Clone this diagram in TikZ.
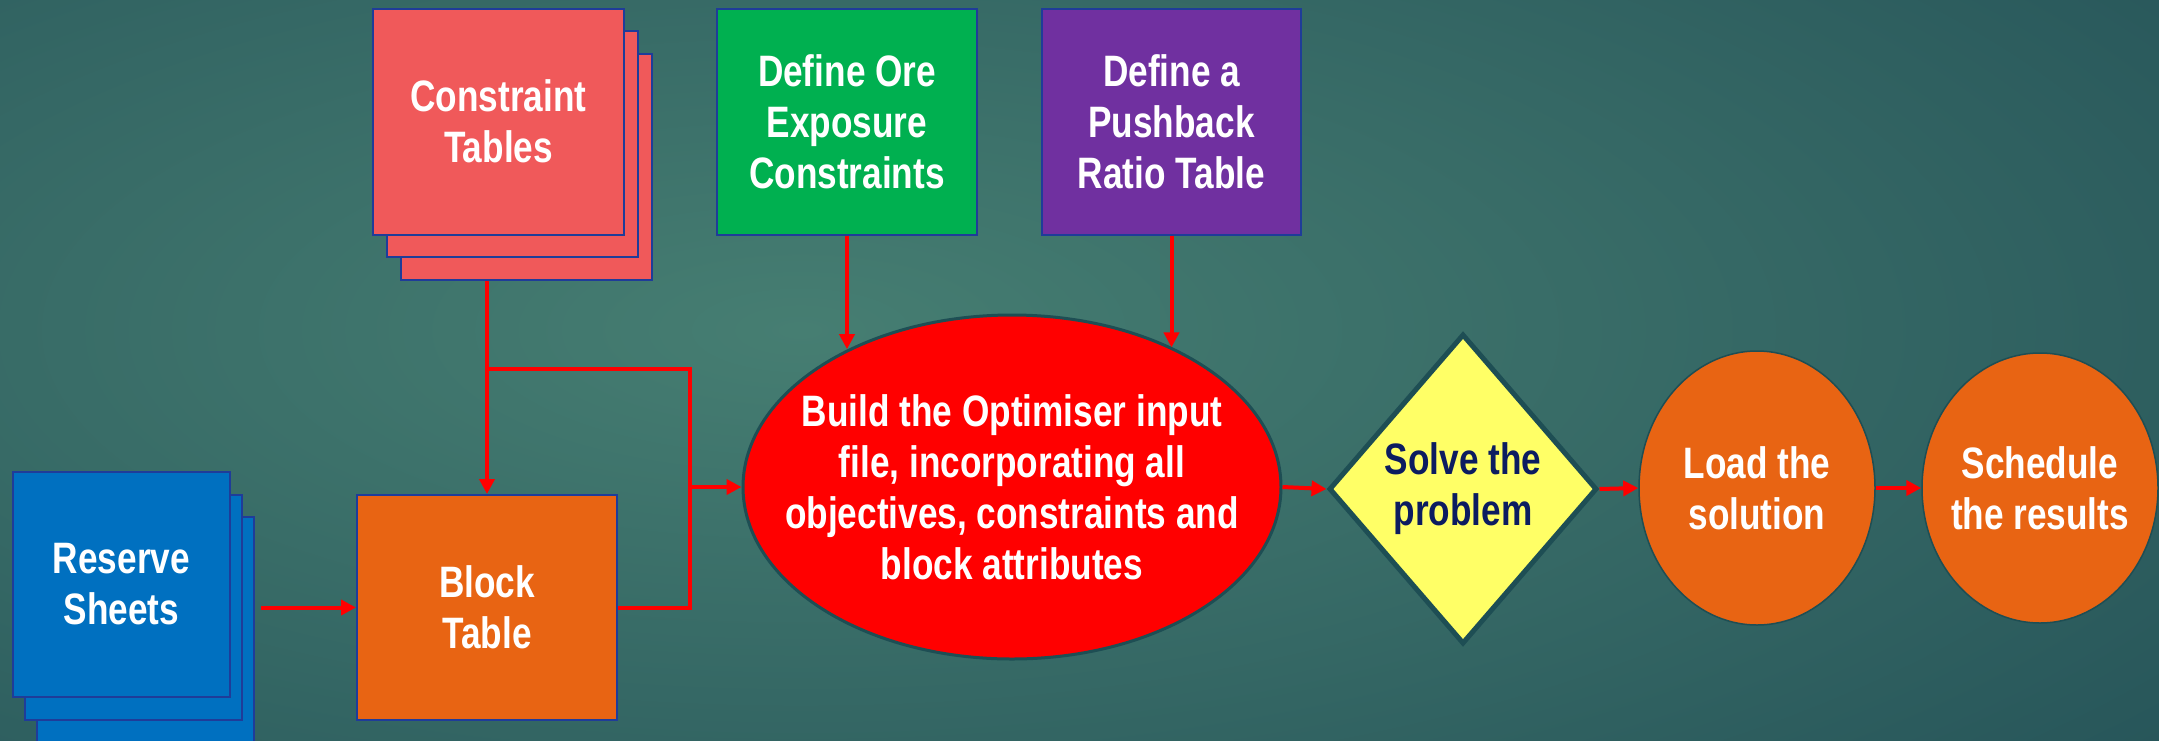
\documentclass[tikz,border=0pt]{standalone}
\usepackage{fontspec}
\setmainfont{Liberation Sans}[FakeStretch=0.8]
\usetikzlibrary{shapes.geometric,arrows.meta}

\definecolor{bgin}{RGB}{70,126,114}
\definecolor{bgout}{RGB}{24,66,78}
\definecolor{edgeblue}{RGB}{31,60,153}
\definecolor{edgeteal}{RGB}{30,78,84}
\definecolor{ctred}{RGB}{240,89,90}
\definecolor{rsblue}{RGB}{0,112,192}
\definecolor{btorange}{RGB}{232,100,19}
\definecolor{oegreen}{RGB}{0,176,80}
\definecolor{pbpurple}{RGB}{112,48,160}
\definecolor{svyellow}{RGB}{255,255,102}
\definecolor{svnavy}{RGB}{12,28,96}

\tikzset{
  sheet/.style={draw=edgeblue, line width=1pt, minimum width=130pt, minimum height=113pt},
  blob/.style={ellipse, draw=edgeteal, line width=0.75pt, inner xsep=-10pt, inner ysep=0pt},
  flow/.style={red, line width=2pt},
}

\begin{document}
\begin{tikzpicture}[x=0.5pt,y=-0.5pt,
  every node/.style={font=\fontsize{22}{25.5}\selectfont\bfseries, align=center, text=white},
  >={Triangle[length=7.5pt,width=7.5pt]}]
\clip (0,0) rectangle (2159,740);
\shade[inner color=bgin, outer color=bgout] (-1800,-670) rectangle (3400,1330);

% stacked inputs
\node[sheet, fill=rsblue, minimum width=108.5pt, minimum height=112.5pt] (rs3) at (145.5,629.5) {};
\node[sheet, fill=rsblue, minimum width=108.5pt, minimum height=112.5pt] (rs2) at (133.5,607) {};
\node[sheet, fill=rsblue, minimum width=108.5pt, minimum height=112.5pt] (rs) at (121.5,584.5) {Reserve\\Sheets};
\node[sheet, fill=ctred, minimum width=125.5pt] (ct3) at (526,166.5) {};
\node[sheet, fill=ctred, minimum width=125.5pt] (ct2) at (512.5,144) {};
\node[sheet, fill=ctred, minimum width=125.5pt] (ct) at (498.5,121.5) {Constraint\\Tables};

\node[sheet, fill=btorange, minimum height=112.5pt] (bt) at (487,607.5) {Block\\Table};
\node[sheet, fill=oegreen] (oe) at (847,121.5) {Define Ore\\Exposure\\Constraints};
\node[sheet, fill=pbpurple, minimum width=129.5pt] (pb) at (1171.5,121.5) {Define a\\Pushback\\Ratio Table};

\node[ellipse, draw=edgeteal, line width=1.5pt, fill=red, inner xsep=-30pt, inner ysep=0pt,
      minimum width=269pt, minimum height=172pt] (opt) at (1012,487)
  {Build the Optimiser input\\file, incorporating all\\objectives, constraints and\\block attributes};
\node[diamond, draw=edgeteal, line width=2.5pt, fill=svyellow, text=svnavy, inner sep=0pt,
      minimum width=134pt, minimum height=155pt] (sv) at (1463,489) {Solve the\\problem};
\node[blob, fill=btorange, minimum width=118pt, minimum height=137pt] (ld) at (1757,488) {Load the\\solution};
\node[blob, fill=btorange, minimum width=118pt, minimum height=135pt] (sc) at (2040,488) {Schedule\\the results};

% connectors
\coordinate (split) at (487,369);
\coordinate (join) at (690,487);
\draw[flow,->] ([xshift=3pt]rs3.east |- bt.west) -- (bt.west);
\draw[flow,->] (bt.north |- ct3.south) -- (bt.north);
\draw[flow] (split) -| (join) |- (bt.east);
\draw[flow,->] (join) -- (opt.west);
\draw[flow,->] (oe.south) -- (oe.south |- opt.140);
\draw[flow,->] (pb.south) -- (pb.south |- opt.41);
\draw[flow,->] (opt.east) -- (sv.west);
\draw[flow,->] (sv.east) -- (ld.west);
\draw[flow,->] (ld.east) -- (sc.west);
\end{tikzpicture}
\end{document}
